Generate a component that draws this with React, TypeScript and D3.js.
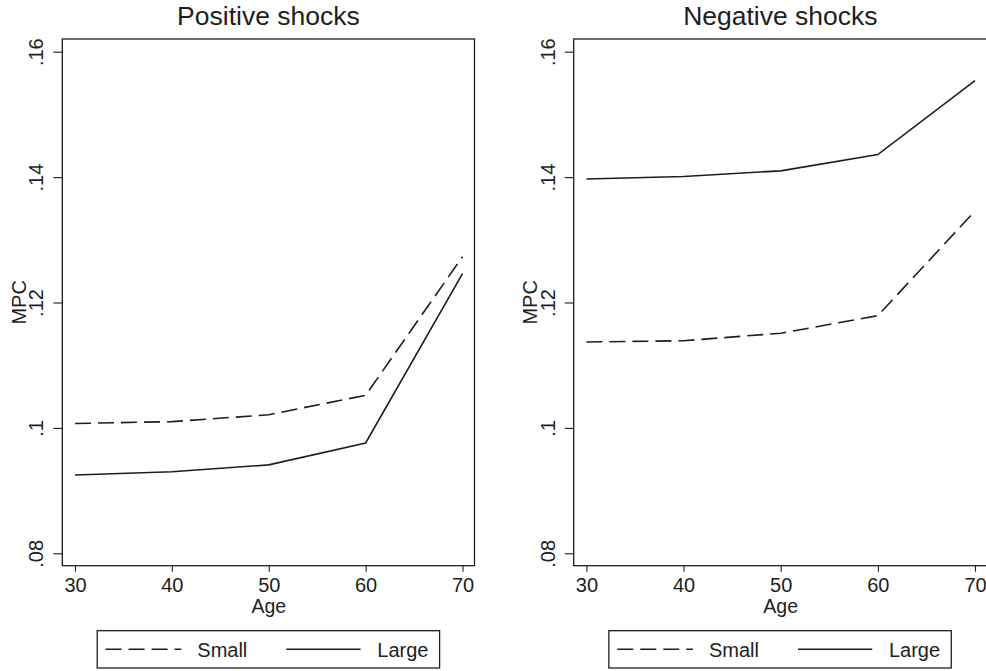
import React, { useRef, useEffect } from 'react'
import { select, scaleLinear, line, axisLeft, axisBottom } from 'd3'

const ages = [30, 40, 50, 60, 70]
const posSmall = [0.1007, 0.1010, 0.1021, 0.1052, 0.1273]
const posLarge = [0.0925, 0.0930, 0.0941, 0.0976, 0.1246]
const negSmall = [0.1137, 0.1139, 0.1151, 0.1179, 0.1346]
const negLarge = [0.1397, 0.1401, 0.1410, 0.1436, 0.1554]
const yTicks = [0.08, 0.10, 0.12, 0.14, 0.16]
const yTickLabels = ['.08', '.1', '.12', '.14', '.16']
const seriesNames = ['Small', 'Large']

const INK = '#1e1e1e'
const FONT = '"Liberation Sans", Arial, Helvetica, sans-serif'

function App() {
    const svgRef = useRef(null)

    useEffect(() => {
        const svg = select(svgRef.current)
        svg.selectAll('*').remove()

        const panels = [
            { title: 'Positive shocks', small: posSmall, large: posLarge, left: 62.3, right: 474.5 },
            { title: 'Negative shocks', small: negSmall, large: negLarge, left: 573.7, right: 987 },
        ]
        const top = 39
        const bottom = 565.7

        panels.forEach(p => {
            const x = scaleLinear().domain([30, 70]).range([p.left + 12.7, p.right - 12])
            const y = scaleLinear().domain([0.08, 0.16]).range([553.3, 51.7])
            const cx = (p.left + p.right) / 2
            const g = svg.append('g')

            // frame
            g.append('rect')
                .attr('x', p.left).attr('y', top)
                .attr('width', p.right - p.left).attr('height', bottom - top)
                .attr('fill', 'none').attr('stroke', INK).attr('stroke-width', 1.3)

            // y axis
            const ya = g.append('g')
                .attr('transform', `translate(${p.left},0)`)
                .call(axisLeft(y).tickValues(yTicks).tickFormat((d, i) => yTickLabels[i]).tickSize(9).tickSizeOuter(0))
            ya.select('.domain').remove()
            ya.selectAll('line').attr('stroke', INK).attr('stroke-width', 1.1)
            ya.selectAll('text')
                .attr('transform', 'rotate(-90)')
                .attr('x', 0).attr('y', -19).attr('dy', null)
                .attr('text-anchor', 'middle')
                .attr('fill', INK)
                .style('font-family', FONT).style('font-size', '20px')

            // x axis
            const xa = g.append('g')
                .attr('transform', `translate(0,${bottom})`)
                .call(axisBottom(x).tickValues(ages).tickSize(6).tickSizeOuter(0))
            xa.select('.domain').remove()
            xa.selectAll('line').attr('stroke', INK).attr('stroke-width', 1.1)
            xa.selectAll('text')
                .attr('y', 26.2).attr('dy', null)
                .attr('fill', INK)
                .style('font-family', FONT).style('font-size', '20px')

            // titles
            g.append('text')
                .attr('x', cx).attr('y', 25)
                .attr('text-anchor', 'middle').attr('fill', INK)
                .style('font-family', FONT).style('font-size', '26.5px')
                .text(p.title)
            g.append('text')
                .attr('x', x(50)).attr('y', 613)
                .attr('text-anchor', 'middle').attr('fill', INK)
                .style('font-family', FONT).style('font-size', '19.5px')
                .text('Age')
            g.append('text')
                .attr('transform', `translate(${p.left - 36.3},${(top + bottom) / 2}) rotate(-90)`)
                .attr('text-anchor', 'middle').attr('fill', INK)
                .style('font-family', FONT).style('font-size', '20px')
                .text('MPC')

            // lines
            const lineGen = line<number>().x((d, i) => x(ages[i])).y(d => y(d))
            g.append('path')
                .attr('d', lineGen(p.small))
                .attr('fill', 'none').attr('stroke', INK).attr('stroke-width', 1.6)
                .attr('stroke-dasharray', '16 7')
            g.append('path')
                .attr('d', lineGen(p.large))
                .attr('fill', 'none').attr('stroke', INK).attr('stroke-width', 1.6)

            // legend
            const lc = (p.left + Math.min(p.right, 986.4)) / 2
            const lg = g.append('g').attr('transform', `translate(${lc},0)`)
            lg.append('rect')
                .attr('x', -171.2).attr('y', 630.7).attr('width', 342.4).attr('height', 37.3)
                .attr('fill', 'none').attr('stroke', INK).attr('stroke-width', 1.3)
            lg.append('line')
                .attr('x1', -162.8).attr('x2', -87.1).attr('y1', 649.3).attr('y2', 649.3)
                .attr('stroke', INK).attr('stroke-width', 1.6).attr('stroke-dasharray', '16 7')
            lg.append('line')
                .attr('x1', 17.9).attr('x2', 92.2).attr('y1', 649.3).attr('y2', 649.3)
                .attr('stroke', INK).attr('stroke-width', 1.6)
            lg.selectAll('text.leg')
                .data(seriesNames)
                .enter()
                .append('text')
                .attr('class', 'leg')
                .attr('x', (d, i) => i === 0 ? -71.1 : 108.9)
                .attr('y', 657)
                .attr('fill', INK)
                .style('font-family', FONT).style('font-size', '20px')
                .text(d => d)
        })
    }, [])

    return (
        <svg ref={svgRef} width="986" height="671"
            style={{ position: 'absolute', left: 0, top: 0, background: '#fff' }}></svg>
    )
}

export default App
